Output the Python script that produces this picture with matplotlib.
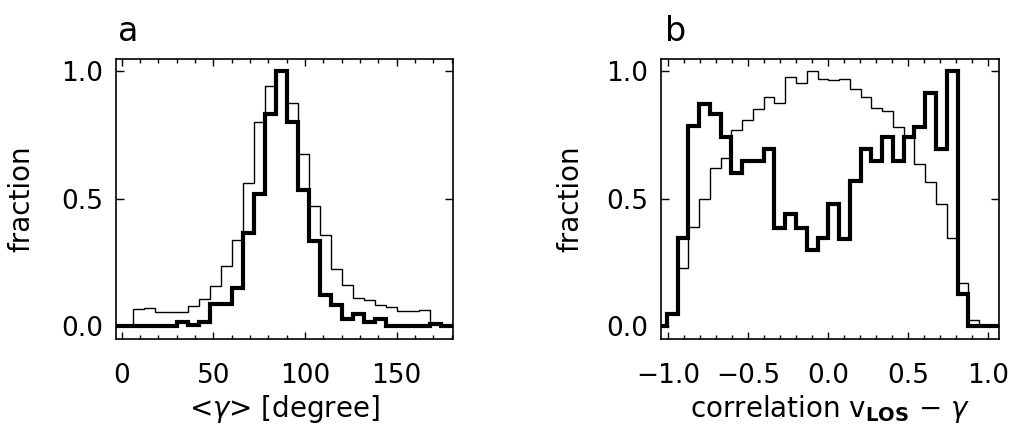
import numpy as np
import matplotlib.pyplot as plt
from matplotlib.ticker import MultipleLocator

# panel a: histogram of <gamma>, bins of 6 degree from 0 to 180
gamma_edges = np.arange(0, 181, 6)
gamma_thin = [0.0, 0.067, 0.071, 0.056, 0.056, 0.056, 0.080, 0.108, 0.158, 0.237,
              0.337, 0.563, 0.800, 0.940, 1.000, 0.873, 0.673, 0.472, 0.357, 0.226,
              0.163, 0.111, 0.102, 0.085, 0.077, 0.059, 0.059, 0.062, 0.010, 0.0]
gamma_thick = [0.0, 0.0, 0.0, 0.0, 0.0, 0.017, 0.005, 0.017, 0.089, 0.089,
               0.148, 0.365, 0.520, 0.830, 1.000, 0.800, 0.533, 0.335, 0.124, 0.085,
               0.030, 0.046, 0.017, 0.030, 0.0, 0.0, 0.0, 0.0, 0.010, 0.0]

# panel b: histogram of the correlation v_LOS - gamma
corr_edges = np.linspace(-1.01, 0.942, 30)
corr_thin = [0.05, 0.23, 0.39, 0.50, 0.62, 0.66, 0.77, 0.81, 0.85, 0.90,
             0.875, 0.975, 0.955, 1.00, 0.967, 0.964, 0.97, 0.928, 0.90, 0.857,
             0.843, 0.78, 0.74, 0.634, 0.565, 0.478, 0.347, 0.17, 0.024]
corr_thick = [0.047, 0.347, 0.785, 0.87, 0.83, 0.74, 0.60, 0.647, 0.647, 0.696,
              0.386, 0.438, 0.386, 0.30, 0.347, 0.48, 0.343, 0.57, 0.696, 0.647,
              0.74, 0.647, 0.74, 0.78, 0.915, 0.696, 1.00, 0.125, 0.0]

plt.rcParams['font.family'] = 'DejaVu Sans'
plt.rcParams['mathtext.fontset'] = 'dejavusans'

fig = plt.figure(figsize=(10.12, 4.28), dpi=100)
ax_a = fig.add_axes([0.1146, 0.208, 0.3335, 0.654])
ax_b = fig.add_axes([0.6532, 0.208, 0.334, 0.654])


def hist_line(ax, edges, vals, lw, xlim):
    # pad with empty bins out to the frame, like the IDL step plot
    e = np.concatenate([[xlim[0]], edges, [xlim[1]]])
    v = np.concatenate([[0.0], vals, [0.0]])
    ax.stairs(v, e, baseline=None, color='black', linewidth=lw)


def style(ax, xlim, xmajor, xminor, xlabel, ylabpad):
    ax.set_xlim(*xlim)
    ax.set_ylim(-0.05, 1.047)
    ax.xaxis.set_major_locator(MultipleLocator(xmajor))
    ax.xaxis.set_minor_locator(MultipleLocator(xminor))
    ax.set_yticks([0.0, 0.5, 1.0])
    ax.set_yticklabels(['0.0', '0.5', '1.0'])
    ax.tick_params(which='both', direction='in', top=True, right=True,
                   width=1.0, labelsize=19)
    ax.tick_params(axis='x', which='major', length=5, pad=17)
    ax.tick_params(axis='x', which='minor', length=3)
    ax.tick_params(axis='y', which='major', length=6, pad=9)
    for s in ax.spines.values():
        s.set_linewidth(1.2)
    ax.set_xlabel(xlabel, fontsize=20, labelpad=3)
    ax.set_ylabel('fraction', fontsize=20, labelpad=ylabpad)


xlim_a = (-3.1, 181)
hist_line(ax_a, gamma_edges, gamma_thin, 1.0, xlim_a)
hist_line(ax_a, gamma_edges, gamma_thick, 3.0, xlim_a)
style(ax_a, xlim_a, 50, 10, r'<$\gamma$> [degree]', 19)
ax_a.set_xticks([0, 50, 100, 150])

xlim_b = (-1.046, 1.067)
hist_line(ax_b, corr_edges, corr_thin, 1.0, xlim_b)
hist_line(ax_b, corr_edges, corr_thick, 3.0, xlim_b)
style(ax_b, xlim_b, 0.5, 0.1,
      r'correlation v$_{\mathbf{LOS}}$ $-$ $\gamma$', 16)
ax_b.set_xticks([-1.0, -0.5, 0.0, 0.5, 1.0])
ax_b.set_xticklabels(['\u22121.0', '\u22120.5', '0.0', '0.5', '1.0'])

fig.text(0.117, 0.905, 'a', fontsize=24, ha='left', va='baseline')
fig.text(0.657, 0.905, 'b', fontsize=24, ha='left', va='baseline')

fig.savefig('out.png', dpi=100)
